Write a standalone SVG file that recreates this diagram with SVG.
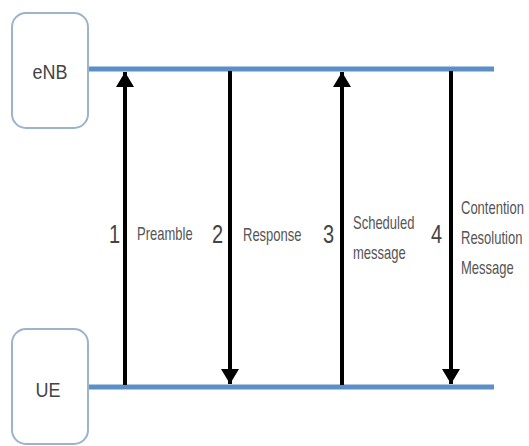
<svg xmlns="http://www.w3.org/2000/svg" width="529" height="446" viewBox="0 0 529 446">
  <defs>
    <marker id="head" viewBox="0 0 15 18" refX="15" refY="9" markerWidth="15" markerHeight="18" markerUnits="userSpaceOnUse" orient="auto">
      <path d="M0,0 L15,9 L0,18 Z" fill="#000"/>
    </marker>
    <style>
      .box { fill: #fff; stroke: #9bb3cc; stroke-width: 2; }
      .lane { stroke: #5b8fc7; stroke-width: 5; }
      .msg { stroke: #000; stroke-width: 4; fill: none; }
      text { font-family: "Liberation Sans", Arial, sans-serif; }
      .name { font-size: 18px; fill: #444; text-anchor: middle; }
      .num { font-size: 20px; fill: #444; }
      .lbl { font-size: 13px; fill: #555; }
    </style>
  </defs>

  <rect width="529" height="446" fill="#fff"/>

  <!-- lifelines -->
  <g id="lanes">
    <line class="lane" x1="88" y1="69" x2="494" y2="69"/>
    <line class="lane" x1="88" y1="387" x2="494" y2="387"/>
  </g>

  <g id="enb">
    <rect class="box" x="12" y="13" width="76" height="115" rx="14"/>
    <text class="name" transform="translate(50,79) scale(1,1.15)">eNB</text>
  </g>

  <g id="ue">
    <rect class="box" x="12" y="329" width="76" height="115" rx="14"/>
    <text class="name" transform="translate(48,397) scale(1,1.15)">UE</text>
  </g>

  <!-- messages -->
  <g id="connectors">
    <line class="msg" x1="125" y1="385" x2="125" y2="72" marker-end="url(#head)"/>
    <line class="msg" x1="230" y1="71" x2="230" y2="384" marker-end="url(#head)"/>
    <line class="msg" x1="342" y1="385" x2="342" y2="72" marker-end="url(#head)"/>
    <line class="msg" x1="451" y1="71" x2="451" y2="384" marker-end="url(#head)"/>
  </g>

  <!-- tall, narrow lettering: small font stretched vertically -->
  <g id="labels">
    <text class="num" transform="translate(109,243) scale(1,1.3)">1</text>
    <text class="lbl" transform="translate(137,240) scale(1,1.35)">Preamble</text>

    <text class="num" transform="translate(212,243) scale(1,1.3)">2</text>
    <text class="lbl" transform="translate(243,241) scale(1,1.35)">Response</text>

    <text class="num" transform="translate(323,243) scale(1,1.3)">3</text>
    <text class="lbl" transform="translate(353,229) scale(1,1.35)">Scheduled</text>
    <text class="lbl" transform="translate(353,259) scale(1,1.35)">message</text>

    <text class="num" transform="translate(431,243) scale(1,1.3)">4</text>
    <text class="lbl" transform="translate(461,214) scale(1,1.35)">Contention</text>
    <text class="lbl" transform="translate(461,244) scale(1,1.35)">Resolution</text>
    <text class="lbl" transform="translate(461,274) scale(1,1.35)">Message</text>
  </g>
</svg>
